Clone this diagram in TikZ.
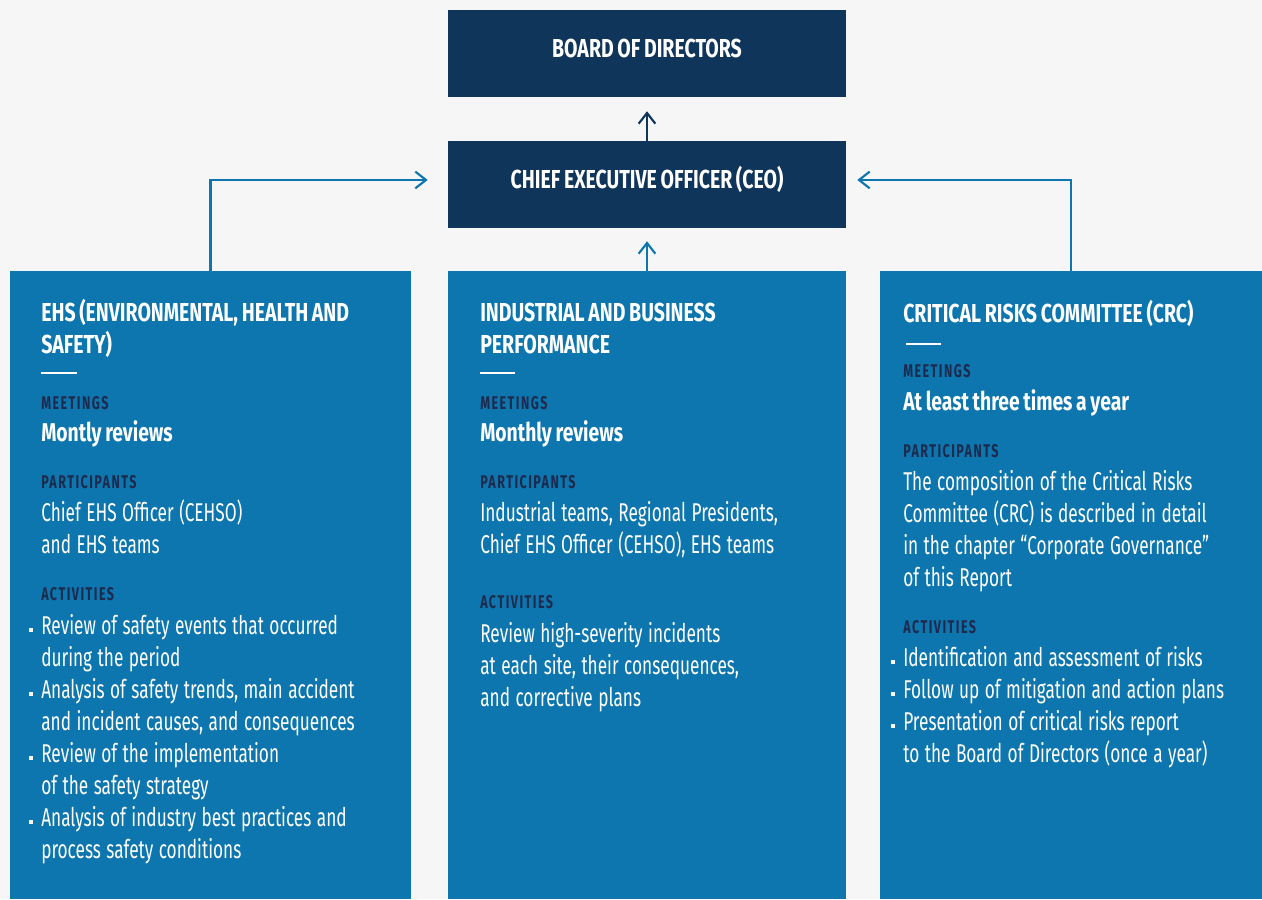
\documentclass[tikz,border=0pt]{standalone}
\usepackage{fontspec}
\setmainfont[FakeStretch=0.67,WordSpace=1.2,BoldFeatures={FakeStretch=0.75,WordSpace=0.8}]{Fira Sans}
\newfontfamily\labelfont[FakeStretch=0.66,LetterSpace=8,BoldFeatures={FakeStretch=0.68}]{Fira Sans}
\usetikzlibrary{arrows.meta}

\definecolor{bgcol}{HTML}{F6F6F6}
\definecolor{navybox}{HTML}{10355A}
\definecolor{bluebox}{HTML}{0D76AE}
\definecolor{labelcol}{HTML}{1C2A4D}
\newcommand{\bul}{\leavevmode\llap{\rule[1.5pt]{3pt}{3pt}\hspace{6pt}}}

\begin{document}
\begin{tikzpicture}[x=0.75pt,y=-0.75pt,
  topbox/.style={fill=navybox,minimum width=298.5pt,minimum height=65.25pt,inner sep=0pt,
    text=white,font=\bfseries\fontsize{19.5}{24}\selectfont,text height=14pt,text depth=8.5pt},
  colbox/.style={fill=bluebox,minimum height=471pt,inner sep=0pt},
  title/.style={anchor=base west,inner sep=0pt,text width=320pt,align=left,text=white,
    font=\bfseries\fontsize{19.5}{24}\selectfont,execute at begin node={\spaceskip=0pt\xspaceskip=0pt}},
  tag/.style={anchor=base west,inner sep=0pt,text=labelcol,font=\labelfont\bfseries\fontsize{13.8}{16}\selectfont},
  lead/.style={anchor=base west,inner sep=0pt,text=white,font=\bfseries\fontsize{19.3}{24}\selectfont},
  body/.style={anchor=base west,inner sep=0pt,text width=330pt,align=left,text=white,
    font=\fontsize{19.3}{24}\selectfont,execute at begin node={\spaceskip=0pt\xspaceskip=0pt}},
  rulebar/.style={draw=white,line width=2.2pt},
  link/.style={draw=bluebox,line width=1.6pt,-{Straight Barb[length=8pt,width=12.5pt,line width=1.6pt]}}]

%Background
\fill[bgcol] (0,0) rectangle (1262,899);
\useasboundingbox (0,0) rectangle (1262,899);

%Top boxes
\node[topbox] (board) at (647,53.5) {BOARD OF DIRECTORS};
\node[topbox] (ceo) at (647,184.5) {CHIEF EXECUTIVE OFFICER (CEO)};

%Column boxes
\node[colbox,minimum width=300.75pt] (ehs) at (210.5,585) {};
\node[colbox,minimum width=298.5pt] (perf) at (647,585) {};
\node[colbox,minimum width=286.5pt] (crc) at (1071,585) {};

%Connectors
\draw[link,draw=navybox,shorten >=10.5pt] (ceo.north) -- (board.south);
\draw[link,shorten >=9.75pt] (perf.north) -- (ceo.south);
\draw[link,shorten >=15pt] (ehs.north) |- ([yshift=3.4pt]ceo.west);
\draw[link,shorten >=8.25pt] (crc.north) |- ([yshift=3.4pt]ceo.east);

% EHS column
\node[title] (ehstitle) at (41,321) {EHS (ENVIRONMENTAL, HEALTH AND\\SAFETY)};
\draw[rulebar] (41,373) -- (77,373);
\node[tag] (ehsmeet) at (41,409.5) {MEETINGS};
\node[lead] (ehsfreq) at (41,441) {Montly reviews};
\node[tag] (ehspart) at (41,488.5) {PARTICIPANTS};
\node[body] (ehswho) at (41,521) {Chief EHS Officer (CEHSO)\\and EHS teams};
\node[tag] (ehsact) at (41,600.5) {ACTIVITIES};
\node[body] (ehslist) at (41,634) {\bul Review of safety events that occurred\\during the period\\
  \bul Analysis of safety trends, main accident\\and incident causes, and consequences\\
  \bul Review of the implementation\\of the safety strategy\\
  \bul Analysis of industry best practices and\\process safety conditions};

% Performance column
\node[title] (perftitle) at (480,321) {INDUSTRIAL AND BUSINESS\\PERFORMANCE};
\draw[rulebar] (480,373) -- (515,373);
\node[tag] (perfmeet) at (480,409.5) {MEETINGS};
\node[lead] (perffreq) at (480,441) {Monthly reviews};
\node[tag] (perfpart) at (480,488.5) {PARTICIPANTS};
\node[body] (perfwho) at (480,521) {Industrial teams, Regional Presidents,\\Chief EHS Officer (CEHSO), EHS teams};
\node[tag] (perfact) at (480,608.5) {ACTIVITIES};
\node[body] (perflist) at (480,642) {Review high-severity incidents\\at each site, their consequences,\\and corrective plans};

% CRC column
\node[title] (crctitle) at (903,322) {CRITICAL RISKS COMMITTEE (CRC)};
\draw[rulebar] (906,344) -- (941,344);
\node[tag] (crcmeet) at (903,377.5) {MEETINGS};
\node[lead] (crcfreq) at (903,410) {At least three times a year};
\node[tag] (crcpart) at (903,457.5) {PARTICIPANTS};
\node[body] (crcwho) at (903,490) {The composition of the Critical Risks\\Committee (CRC) is described in detail\\in the chapter “Corporate Governance”\\of this Report};
\node[tag] (crcact) at (903,633.5) {ACTIVITIES};
\node[body] (crclist) at (903,666) {\bul Identification and assessment of risks\\
  \bul Follow up of mitigation and action plans\\
  \bul Presentation of critical risks report\\to the Board of Directors (once a year)};

\end{tikzpicture}
\end{document}
